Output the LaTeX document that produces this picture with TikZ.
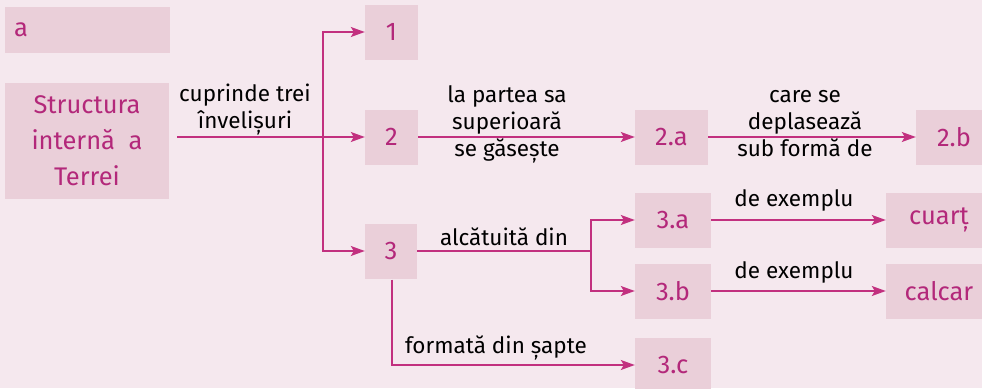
\documentclass[tikz,border=0pt]{standalone}
\usepackage{fontspec}
\setmainfont{Fira Sans}
\usetikzlibrary{arrows.meta}

\definecolor{pagebg}{HTML}{F5E8EE}
\definecolor{boxfill}{HTML}{EACFD9}
\definecolor{plum}{HTML}{B3287A}
\definecolor{wire}{HTML}{C2307F}

\tikzset{
  cell/.style={fill=boxfill, text=plum, font=\fontsize{25.5}{36}\selectfont,
    minimum height=55pt, inner sep=0pt, align=center},
  link/.style={draw=wire, line width=1.4pt, -{Stealth[length=14pt,width=10pt,inset=3pt]}},
  wireline/.style={draw=wire, line width=1.4pt},
  tag/.style={text=black, font=\fontsize{22.5}{27}\selectfont, align=center, inner sep=0pt}
}

\begin{document}
\begin{tikzpicture}[x=1pt, y=-1pt]
    % Page
    \useasboundingbox (0,0) rectangle (982,388);
    \fill[pagebg] (0,0) rectangle (982,388);

    % Left column
    \node[cell, minimum width=165pt, minimum height=46pt, text width=147pt, align=left] (title) at (87.5,30) {a};
    \node[cell, minimum width=164pt, minimum height=116pt] (root) at (87,141) {Structura\\internă\ \ a\\Terrei};

    % First level
    \node[cell, minimum width=53pt] (n1) at (391.5,32) {1};
    \node[cell, minimum width=53pt] (n2) at (391.5,137) {2};
    \node[cell, minimum width=52pt] (n3) at (391,251) {3};

    % Second level
    \node[cell, minimum width=73pt] (n2a) at (671.5,137) {2.a};
    \node[cell, minimum width=76pt] (n3a) at (673,220) {3.a};
    \node[cell, minimum width=76pt] (n3b) at (673,291) {3.b};
    \node[cell, minimum width=76pt] (n3c) at (673,365) {3.c};

    % Third level
    \node[cell, minimum width=76pt] (n2b) at (954,137) {2.b};
    \node[cell, minimum width=106pt] (cuart) at (939,220) {cuarț};
    \node[cell, minimum width=106pt] (calcar) at (939,291) {calcar};

    % Connectors
    \coordinate (rootout) at (177,137);
    \coordinate (fork1) at (323,137);
    \coordinate (fork3) at (591,251);
    \draw[link] (rootout) -- (n2);
    \draw[link] (fork1) |- (n1);
    \draw[link] (fork1) |- (n3);
    \draw[link] (n2) -- (n2a);
    \draw[link] (n2a) -- (n2b);
    \draw[wireline] (n3) -- (fork3);
    \draw[link] (fork3) |- (n3a);
    \draw[link] (fork3) |- (n3b);
    \draw[link] (n3a) -- (cuart);
    \draw[link] (n3b) -- (calcar);
    \draw[link] ([xshift=1pt, yshift=-1pt]n3.south) |- (n3c);

    % Labels
    \node[tag] (t-cup) at (245,110) {cuprinde trei\\învelișuri};
    \node[tag] (t-sup) at (507,124) {la partea sa\\superioară\\se găsește};
    \node[tag] (t-dep) at (805,124) {care se\\deplasează\\sub formă de};
    \node[tag] (t-alc) at (504,237) {alcătuită din};
    \node[tag] (t-exa) at (794,200) {de exemplu};
    \node[tag] (t-exb) at (794,272) {de exemplu};
    \node[tag] (t-fmt) at (496,348) {formată din șapte};
\end{tikzpicture}
\end{document}
